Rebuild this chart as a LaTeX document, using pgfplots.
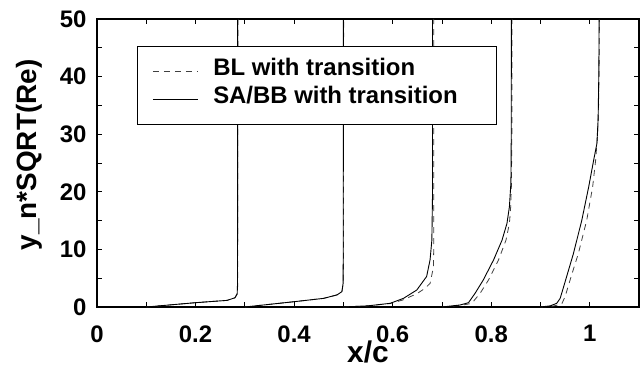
\documentclass[border=0pt]{standalone}
\usepackage{pgfplots}
\pgfplotsset{compat=1.18}
\usepackage{fontspec}
\setmainfont{Liberation Sans}
\newcommand{\tickfont}{\bfseries\fontsize{24}{24}\selectfont}
\begin{document}
\begin{tikzpicture}
\useasboundingbox (-97bp,-66bp) rectangle (547bp,307bp);
\begin{axis}[
  at={(0,0)}, anchor=south west,
  scale only axis, width=542bp, height=288bp,
  xmin=0, xmax=1.1, ymin=0, ymax=50,
  xtick={0,0.2,0.4,0.6,0.8,1}, xticklabels={0,0.2,0.4,0.6,0.8,1},
  minor xtick={0.1,0.3,0.5,0.7,0.9,1.1},
  ytick={0,10,20,30,40,50}, yticklabels={0,10,20,30,40,50},
  minor ytick={5,15,25,35,45},
  tick align=inside, major tick length=5bp, minor tick length=5bp,
  tick style={black, line width=0.8bp},
  axis line style={line width=1.1bp},
  /pgf/number format/assume math mode=true,
  xticklabel style={font=\tickfont, yshift=-15bp},
  yticklabel style={font=\tickfont, xshift=-7bp},
  xlabel={x/c}, ylabel={y\_n*SQRT(Re)},
  every axis x label/.style={at={(axis description cs:0.5,0)}, anchor=base, yshift=-55bp, font=\bfseries\fontsize{30}{30}\selectfont},
  every axis y label/.style={at={(axis description cs:-0.111,0.528)}, anchor=base, rotate=90, font=\bfseries\fontsize{28}{28}\selectfont},
  legend style={at={(axis cs:0.081,45.3)}, anchor=north west, draw=black, line width=0.9bp,
    font=\bfseries\fontsize{24}{24}\selectfont, inner xsep=15bp, inner ysep=11bp,
    nodes={inner sep=0pt, text height=18bp, text depth=10bp}, row sep=0pt, column sep=15bp},
  legend cell align=left,
  legend image code/.code={\draw[#1] (0bp,0bp) -- (45bp,0bp);},
]
% ---- station 1 ----
\addplot[black!75, line width=0.8bp, dash pattern=on 6bp off 5bp] coordinates {
(0.1,0) (0.2,0.75) (0.264,1.15) (0.28,1.6) (0.2848,2.3) (0.2856,4) (0.286,50)};
\addlegendentry{\makebox[268bp][l]{BL with transition}}
\addplot[black, line width=0.9bp] coordinates {
(0.1,0) (0.2,0.75) (0.264,1.15) (0.28,1.6) (0.2845,2.3) (0.2852,4) (0.2855,50)};
\addlegendentry{\makebox[268bp][l]{SA/BB with transition}}
% station 2
\addplot[black!75, line width=0.8bp, dash pattern=on 6bp off 5bp, forget plot] coordinates {
(0.3,0) (0.4,0.92) (0.46,1.5) (0.487,2.1) (0.497,2.66) (0.4998,4.1) (0.5002,10) (0.5005,50)};
\addplot[black, line width=0.9bp, forget plot] coordinates {
(0.3,0) (0.4,0.92) (0.46,1.5) (0.487,2.1) (0.497,2.66) (0.4995,4.1) (0.4998,10) (0.5,50)};
% station 3
\addplot[black!75, line width=0.8bp, dash pattern=on 6bp off 5bp, forget plot] coordinates {
(0.5,0) (0.55,0.2) (0.595,0.6) (0.62,1.2) (0.649,2.3) (0.665,3.2) (0.676,4.1) (0.683,7) (0.6835,12) (0.6835,50)};
\addplot[black, line width=0.9bp, forget plot] coordinates {
(0.5,0) (0.55,0.2) (0.595,0.64) (0.622,1.5) (0.649,2.95) (0.669,5.3) (0.676,8.2) (0.6796,11.6) (0.681,20) (0.681,50)};
% station 4
\addplot[black!75, line width=0.8bp, dash pattern=on 6bp off 5bp, forget plot] coordinates {
(0.7,0) (0.74,0.3) (0.7607,0.64) (0.7777,2.4) (0.7946,4.7) (0.815,8.2) (0.830,11.6) (0.837,14.5) (0.8396,17.4) (0.841,21) (0.842,30) (0.842,50)};
\addplot[black, line width=0.9bp, forget plot] coordinates {
(0.7,0) (0.737,0.35) (0.754,0.75) (0.7675,2.4) (0.784,4.7) (0.805,8.2) (0.822,11.6) (0.832,14.5) (0.837,17.4) (0.840,21.5) (0.8406,27.3) (0.841,50)};
% station 5
\addplot[black!75, line width=0.8bp, dash pattern=on 6bp off 5bp, forget plot] coordinates {
(0.9,0) (0.925,0.15) (0.943,0.5) (0.950,1.8) (0.963,5.5) (0.977,9.3) (0.994,15.1) (1.006,20.9) (1.012,25.5) (1.016,30) (1.018,35) (1.019,42) (1.0195,50)};
\addplot[black, line width=0.9bp, forget plot] coordinates {
(0.9,0) (0.92,0.2) (0.933,0.64) (0.94,1.5) (0.947,3.5) (0.967,9.3) (0.984,15.1) (0.998,20.9) (1.008,25.5) (1.0146,28.4) (1.017,32.5) (1.0186,41.1) (1.019,50)};
\end{axis}
\end{tikzpicture}
\end{document}
